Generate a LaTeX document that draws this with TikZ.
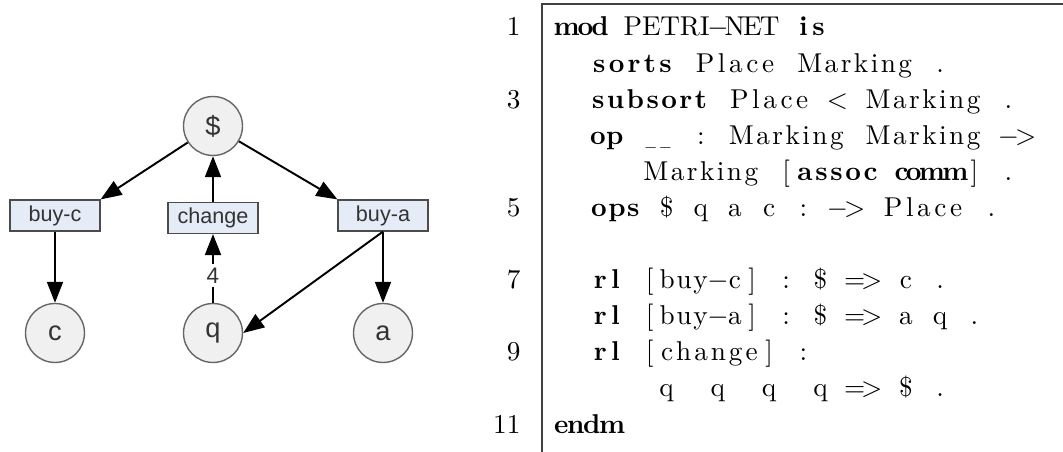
\documentclass[tikz,border=0pt]{standalone}
\usepackage{fontspec}
\newfontfamily\diafont{Liberation Sans}
\usetikzlibrary{arrows.meta}

\definecolor{transfill}{HTML}{E6ECF7}
\definecolor{placefill}{HTML}{F0F0F0}

% fixed columns, as a listing sets them
\newlength\cw
\setlength\cw{0.2206cm}
\newcount\lwn
\makeatletter
\newcommand\lw[1]{\lwn=0 \@tfor\lw@c:=#1\do{\advance\lwn by 1 }%
  \hbox to \lwn\cw{\hss\@tfor\lw@c:=#1\do{\lw@c\hss}}}
\makeatother
\newcommand\kw[1]{{\bfseries\lw{#1}}}
\newcommand\sk[1][1]{\hskip#1\cw}
\newcommand\mn{\ensuremath{-}}
\newcommand\us{\scalebox{0.5}[1]{\_}}

\begin{document}
\begin{tikzpicture}[x=0.02cm, y=-0.02cm]
  % Parameters
  \def\colzero{555}
  \def\numx{521}

  \tikzset{
    place/.style={circle, draw=black!60, fill=placefill, line width=0.8pt,
      minimum size=1.18cm, inner sep=0pt, text=black!80,
      font=\diafont\fontsize{15.5}{18}\selectfont},
    trans/.style={rectangle, draw=black!70, fill=transfill, line width=0.7pt,
      minimum width=1.8cm, minimum height=0.62cm, inner sep=0pt, text=black!80,
      font=\diafont\fontsize{12.3}{14}\selectfont},
    arc/.style={line width=1.1pt, -{Triangle[length=4.2mm, width=3.2mm]}},
    weight/.style={fill=white, inner sep=2pt, text=black!80,
      font=\diafont\fontsize{12.8}{14}\selectfont},
    % 10pt text blown up, so the heavier design size is used
    code/.style={anchor=base west, inner sep=0pt,
      font=\fontsize{10}{12}\selectfont, scale=1.55, transform shape},
    lnum/.style={anchor=base east, inner sep=0pt,
      font=\fontsize{10}{12}\selectfont, scale=1.55, transform shape},
    frame/.style={line width=0.6pt, draw=black!75}
  }

  \useasboundingbox (0,0) rectangle (1063,452);

  % Petri net
  \node[place] (dollar) at (213,126) {\$};
  \node[trans] (buyc) at (55,215.5) {buy-c};
  \node[trans] (change) at (213,218) {change};
  \node[trans] (buya) at (383,215.5) {buy-a};
  \node[place] (c) at (55,333) {c};
  \node[place] (q) at (213,333) {q};
  \node[place] (a) at (383,333) {a};

  \draw[arc] (dollar) -- (buyc.north east);
  \draw[arc] (dollar) -- (buya.north west);
  \draw[arc] (change) -- (dollar);
  \draw[arc] (buyc) -- (c);
  \draw[arc] (buya) -- (a);
  \draw[arc] (buya.south) -- (q.east);
  \draw[arc] (q) -- node[weight, pos=0.4] {4} (change);

  % Maude listing
  \draw[frame] (542,452) -- (542,4) -- (1063,4);

  \foreach \n/\v in {1/0, 3/2, 5/5, 7/7, 9/9, 11/11}
    \node[lnum] (n\n) at (\numx, {36+36.1*\v}) {\n};

  \node[code] (l1) at (\colzero,36) {\kw{mod}\sk\lw{PETRI}\lw{\mn}\lw{NET}\sk\kw{is}};
  \node[code] (l2) at (\colzero,72.1) {\sk[2]\kw{sorts}\sk\lw{Place}\sk\lw{Marking}\sk\lw{.}};
  \node[code] (l3) at (\colzero,108.2) {\sk[2]\kw{subsort}\sk\lw{Place}\sk\lw{<}\sk\lw{Marking}\sk\lw{.}};
  \node[code] (l4) at (\colzero,144.3) {\sk[2]\kw{op}\sk\lw{\us\us}\sk\lw{:}\sk\lw{Marking}\sk\lw{Marking}\sk\lw{\mn}\lw{>}};
  \node[code] (l4b) at (\colzero,180.4) {\sk[5]\lw{Marking}\sk\lw{[}\kw{assoc}\sk\kw{comm}\lw{]}\sk\lw{.}};
  \node[code] (l5) at (\colzero,216.5) {\sk[2]\kw{ops}\sk\lw{\$}\sk\lw{q}\sk\lw{a}\sk\lw{c}\sk\lw{:}\sk\lw{\mn}\lw{>}\sk\lw{Place}\sk\lw{.}};
  \node[code] (l7) at (\colzero,288.7) {\sk[2]\kw{rl}\sk\lw{[}\lw{buy}\lw{\mn}\lw{c}\lw{]}\sk\lw{:}\sk\lw{\$}\sk\lw{=}\lw{>}\sk\lw{c}\sk\lw{.}};
  \node[code] (l8) at (\colzero,324.8) {\sk[2]\kw{rl}\sk\lw{[}\lw{buy}\lw{\mn}\lw{a}\lw{]}\sk\lw{:}\sk\lw{\$}\sk\lw{=}\lw{>}\sk\lw{a}\sk\lw{q}\sk\lw{.}};
  \node[code] (l9) at (\colzero,360.9) {\sk[2]\kw{rl}\sk\lw{[}\lw{change}\lw{]}\sk\lw{:}};
  \node[code] (l10) at (\colzero,397) {\sk[6]\lw{q}\sk[2]\lw{q}\sk[2]\lw{q}\sk[2]\lw{q}\sk\lw{=}\lw{>}\sk\lw{\$}\sk\lw{.}};
  \node[code] (l11) at (\colzero,433.1) {\kw{endm}};
\end{tikzpicture}
\end{document}
